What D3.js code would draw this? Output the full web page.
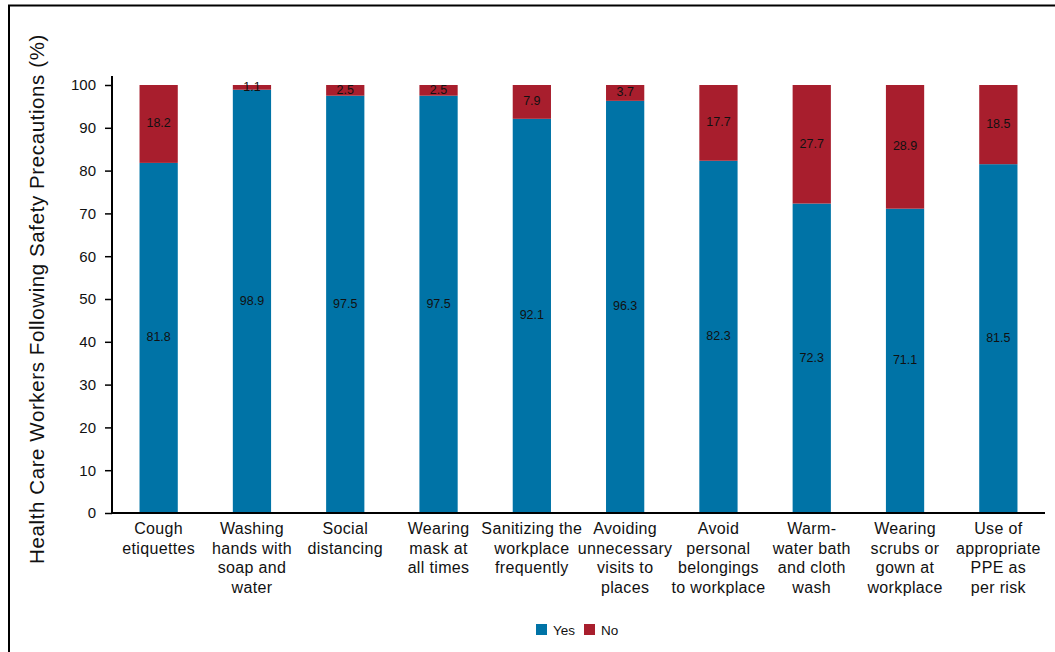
<!DOCTYPE html>
<html>
<head>
<meta charset="utf-8">
<script src="https://cdn.jsdelivr.net/npm/d3@7"></script>
<style>
  body { margin: 0; background: #fff; }
  svg { display: block; font-family: "Liberation Sans", Arial, sans-serif; }
</style>
</head>
<body>
<div id="chart"></div>
<script>
// Categories and series values
const categories = [
  ['Cough', 'etiquettes'],
  ['Washing', 'hands with', 'soap and', 'water'],
  ['Social', 'distancing'],
  ['Wearing', 'mask at', 'all times'],
  ['Sanitizing the', 'workplace', 'frequently'],
  ['Avoiding', 'unnecessary', 'visits to', 'places'],
  ['Avoid', 'personal', 'belongings', 'to workplace'],
  ['Warm-', 'water bath', 'and cloth', 'wash'],
  ['Wearing', 'scrubs or', 'gown at', 'workplace'],
  ['Use of', 'appropriate', 'PPE as', 'per risk']
];
const yesValues = [81.8, 98.9, 97.5, 97.5, 92.1, 96.3, 82.3, 72.3, 71.1, 81.5];
const noValues = [18.2, 1.1, 2.5, 2.5, 7.9, 3.7, 17.7, 27.7, 28.9, 18.5];
const yTicks = [0, 10, 20, 30, 40, 50, 60, 70, 80, 90, 100];

const colors = { Yes: '#0073a6', No: '#a81e2d' };

const width = 1055, height = 652;
const margin = { left: 112, right: 10, top: 85, bottom: 139 };
const plotRight = 1045;

const svg = d3.select('#chart').append('svg')
  .attr('width', width)
  .attr('height', height);

// Outer frame (left and top edges)
svg.append('path')
  .attr('d', `M9,${height} V5.5 H${width}`)
  .attr('fill', 'none')
  .attr('stroke', '#000')
  .attr('stroke-width', 2);

const x = d3.scaleBand()
  .domain(d3.range(categories.length))
  .range([margin.left, plotRight])
  .paddingInner(0.59)
  .paddingOuter(0.295);

const y = d3.scaleLinear()
  .domain([0, 100])
  .range([height - margin.bottom, margin.top]);

// Stack the two series
const rows = categories.map((c, i) => ({ i, Yes: yesValues[i], No: noValues[i] }));
const stacked = d3.stack().keys(['Yes', 'No'])(rows);

const layers = svg.append('g').selectAll('g')
  .data(stacked)
  .enter().append('g')
  .attr('fill', d => colors[d.key]);

layers.selectAll('rect')
  .data(d => d)
  .enter().append('rect')
  .attr('x', d => x(d.data.i))
  .attr('width', x.bandwidth())
  .attr('y', d => y(d[1]))
  .attr('height', d => y(d[0]) - y(d[1]));

// Value labels in the middle of each segment
layers.selectAll('text')
  .data(d => d.map(s => ({ s, key: d.key })))
  .enter().append('text')
  .attr('x', d => x(d.s.data.i) + x.bandwidth() / 2)
  .attr('y', d => y((d.s[0] + d.s[1]) / 2))
  .attr('text-anchor', 'middle')
  .attr('dominant-baseline', 'middle')
  .attr('fill', '#111')
  .attr('font-size', '12.5px')
  .text(d => d.s.data[d.key].toFixed(1));

// Y axis
const yAxis = svg.append('g')
  .attr('transform', `translate(${margin.left},0)`)
  .call(d3.axisLeft(y).tickValues(yTicks).tickSize(7).tickSizeOuter(0).tickPadding(9));
yAxis.select('.domain').attr('stroke-width', 2).attr('d', `M0,${y(100) - 9}V${y(0)}`);
yAxis.selectAll('.tick line').attr('stroke-width', 1.5);
yAxis.selectAll('.tick text').attr('font-size', '15px').attr('fill', '#111');

// X axis line
svg.append('line')
  .attr('x1', margin.left - 1)
  .attr('x2', plotRight)
  .attr('y1', y(0))
  .attr('y2', y(0))
  .attr('stroke', '#000')
  .attr('stroke-width', 2);

// Category labels (multi-line)
const catLabels = svg.append('g').selectAll('text')
  .data(categories)
  .enter().append('text')
  .attr('x', (d, i) => x(i) + x.bandwidth() / 2)
  .attr('y', y(0) + 21)
  .attr('text-anchor', 'middle')
  .attr('font-size', '16px')
  .attr('letter-spacing', '0.35px')
  .attr('fill', '#111');

catLabels.selectAll('tspan')
  .data(d => d)
  .enter().append('tspan')
  .attr('x', function() { return this.parentNode.getAttribute('x'); })
  .attr('dy', (d, j) => j === 0 ? 0 : 19.5)
  .text(d => d);

// Y axis title
svg.append('text')
  .attr('transform', `translate(44,${(y(0) + y(100)) / 2}) rotate(-90)`)
  .attr('text-anchor', 'middle')
  .attr('font-size', '20.5px')
  .attr('letter-spacing', '0.6px')
  .attr('fill', '#111')
  .text('Health Care Workers Following Safety Precautions (%)');

// Legend
const legendItems = [
  { key: 'Yes', x: 536 },
  { key: 'No', x: 584 }
];
const legend = svg.append('g').selectAll('g')
  .data(legendItems)
  .enter().append('g')
  .attr('transform', d => `translate(${d.x},624)`);

legend.append('rect')
  .attr('width', 11)
  .attr('height', 11)
  .attr('fill', d => colors[d.key]);

legend.append('text')
  .attr('x', 17)
  .attr('y', 10.5)
  .attr('font-size', '13.5px')
  .attr('fill', '#111')
  .text(d => d.key);
</script>
</body>
</html>
